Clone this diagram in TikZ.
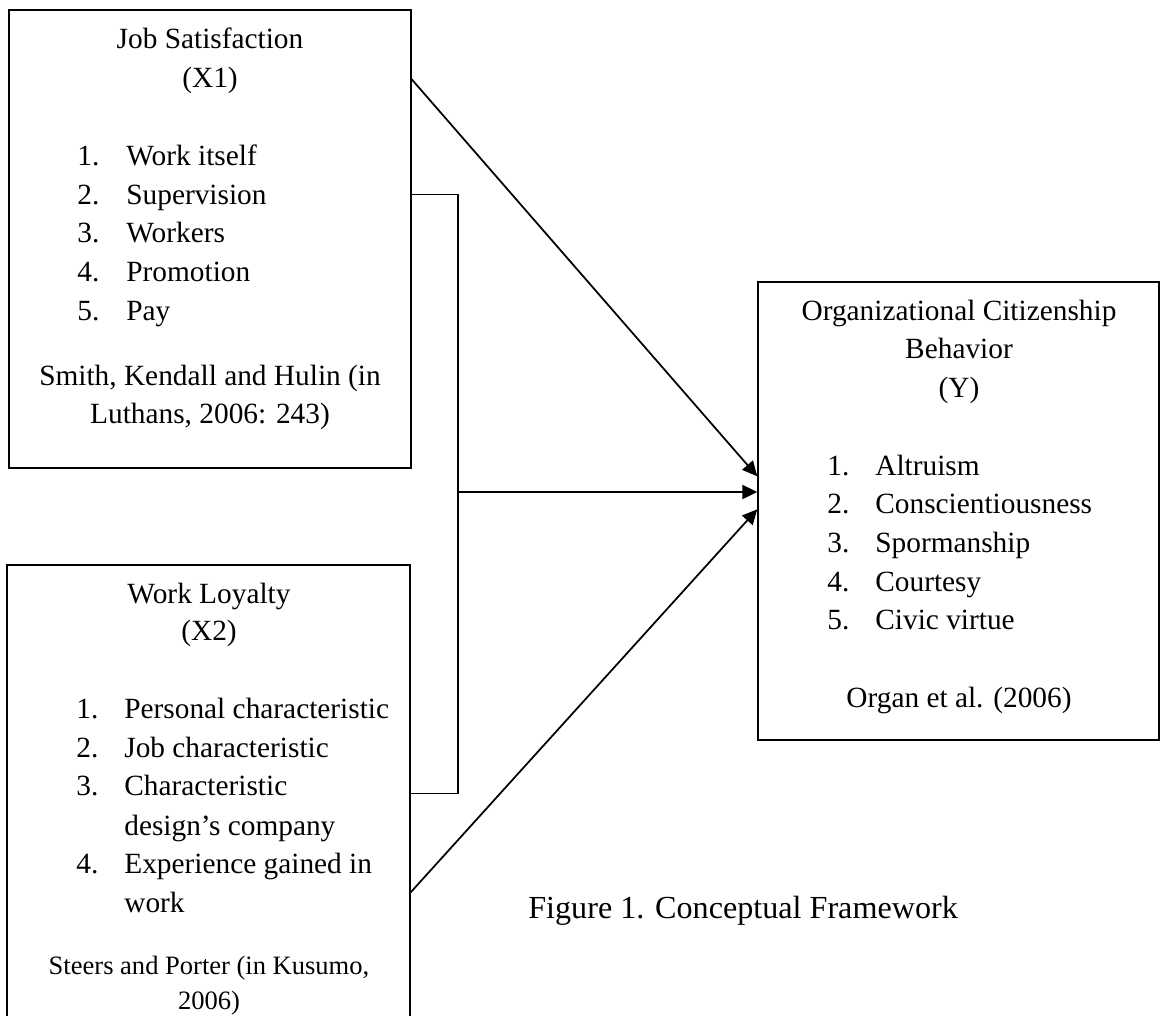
\documentclass[tikz,border=0pt]{standalone}
\usepackage{fontspec}
\setmainfont{Liberation Serif}
\usetikzlibrary{arrows.meta, calc, positioning}

\begin{document}
\begin{tikzpicture}[x=0.02cm, y=-0.02cm]
\useasboundingbox (0,0) rectangle (1160,1015);

\begin{scope}[every node/.style={rectangle,draw,line width=0.85pt,inner sep=0}]
    \node[minimum width=8.04cm, minimum height=9.16cm] (JS) at (210,239) {};
    \node[minimum width=8.06cm, minimum height=9.3cm] (WL) at (208.5,797.5) {};
    \node[minimum width=8.02cm, minimum height=9.16cm] (OCB) at (958.5,511) {};
\end{scope}

\begin{scope}[every node/.style={inner sep=0,anchor=base,font=\fontsize{16.7}{22}\selectfont}]
    % Job Satisfaction
    \node (JS1) at (210,48) {Job Satisfaction};
    \node (JS2) at (210,87) {(X1)};
    \foreach \n/\t/\y in {1/Work itself/165, 2/Supervision/204, 3/Workers/242,
                          4/Promotion/281, 5/Pay/320} {
        \node[anchor=base west] (JSn\n) at (77,\y) {\n.};
        \node[anchor=base west] (JSi\n) at (126,\y) {\t};
    }
    \node (JS3) at (210,385) {Smith, Kendall and Hulin (in};
    \node (JS4) at (210,423) {Luthans, 2006: 243)};

    % Work Loyalty
    \node (WL1) at (209,603) {Work Loyalty};
    \node (WL2) at (209,640) {(X2)};
    \foreach \n/\t/\y in {1/Personal characteristic/718, 2/Job characteristic/757,
                          3/Characteristic/795, 4/Experience gained in/873} {
        \node[anchor=base west] (WLn\n) at (76,\y) {\n.};
        \node[anchor=base west] (WLi\n) at (124,\y) {\t};
    }
    \node[anchor=base west] (WLi3b) at (124,835) {design’s company};
    \node[anchor=base west] (WLi4b) at (124,912) {work};
    \node[font=\fontsize{15.1}{20}\selectfont] (WL3) at (209,974) {Steers and Porter (in Kusumo,};
    \node[font=\fontsize{15.1}{20}\selectfont] (WL4) at (209,1009) {2006)};

    % Organizational Citizenship Behavior
    \node (OCB1) at (959,320) {Organizational Citizenship};
    \node (OCB2) at (959,358) {Behavior};
    \node (OCB3) at (959,397) {(Y)};
    \foreach \n/\t/\y in {1/Altruism/475, 2/Conscientiousness/513, 3/Spormanship/552,
                          4/Courtesy/591, 5/Civic virtue/629} {
        \node[anchor=base west] (OCBn\n) at (827,\y) {\n.};
        \node[anchor=base west] (OCBi\n) at (875,\y) {\t};
    }
    \node (OCB4) at (959,707) {Organ et al. (2006)};

    \node[anchor=base west,font=\fontsize{18.3}{22}\selectfont] (cap) at (528,918) {Figure 1. Conceptual Framework};
\end{scope}

\coordinate (jn) at (458,492);

\begin{scope}[>={Triangle[length=8.5pt,width=8pt]}, line width=1pt]
    \draw [->] ($(JS.north east)+(0,70)$) -- ($(OCB.north west)+(0,195)$);
    \draw [line width=0.75pt] ($(JS.north east)+(0,185)$) -| (jn) |- ($(WL.north east)+(0,229)$);
    \draw [->] (jn) -- (jn -| OCB.west);
    \draw [->] ($(WL.north east)+(0,328)$) -- ($(OCB.north west)+(0,228)$);
\end{scope}
\end{tikzpicture}
\end{document}
